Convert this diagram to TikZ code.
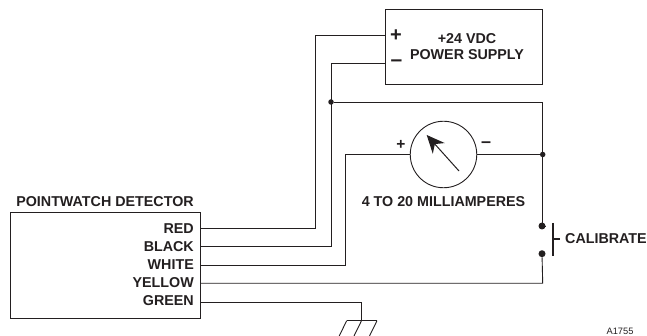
\documentclass[tikz,border=0pt]{standalone}
\usepackage{fontspec}
\setmainfont{Liberation Sans}
\usetikzlibrary{arrows.meta}
\definecolor{ink}{HTML}{231F20}
\tikzset{
  wire/.style={draw=ink,line width=0.9pt},
  box/.style={draw=ink,line width=0.9pt,inner sep=0pt},
  lbl/.style={text=ink,font=\fontsize{14.3}{16}\selectfont\bfseries,inner sep=0pt},
  joint/.style={circle,fill=ink,inner sep=0pt,minimum size=#1}
}
\begin{document}
\begin{tikzpicture}[x=1pt,y=-1pt]
  \useasboundingbox (0,0) rectangle (647,336);
  % boxes
  \node[box,minimum width=189.5pt,minimum height=105.5pt] (detector) at (105.25,265.25) {};
  \node[box,minimum width=157.5pt,minimum height=75pt] (supply) at (464,46.5) {};
  \node[box,circle,minimum size=66.5pt] (meter) at (443.5,154.5) {};
  % connection points
  \coordinate (supplyplus) at (385,35.7);
  \coordinate (supplyminus) at (385,63.5);
  \foreach \wname/\y in {red/228.7,black/246,white/265,yellow/283.3,green/302}{%
    \coordinate (\wname) at (200,\y);
  }
  \node[joint=5.5pt] (topjoint) at (331,102) {};
  \node[joint=5.5pt] (rightjoint) at (542.7,154.5) {};
  \node[joint=7pt] (switchtop) at (542,226) {};
  \node[joint=7pt] (switchbot) at (542,253.7) {};
  \coordinate (ground) at (361.5,320.7);
  % wires
  \draw[wire] (red) -- (315.3,228.7) -- (315.3,35.7) -- (supplyplus);
  \draw[wire] (black) -- (331,246) -- (331,63.5) -- (supplyminus);
  \draw[wire] (white) -- (345.7,265) -- (345.7,154.5) -- (meter.west);
  \draw[wire] (meter.east) -- (rightjoint);
  \draw[wire] (topjoint) -- (542.7,102) -- (rightjoint) -- (542.7,226) -- (switchtop);
  \draw[wire] (switchbot) -- (542.7,283.3) -- (yellow);
  \draw[wire] (green) -- (361.5,302) -- (ground);
  % ground
  \draw[wire] (346.7,320.7) -- (377,320.7);
  \foreach \gx in {346.7,361.5,377}{%
    \draw[wire] (\gx,320.7) -- (\gx-7.5,336);
  }
  % needle
  \draw[wire,line width=1pt,-{Stealth[length=18pt,width=16pt]}] (459,171) -- (426.7,135);
  % switch
  \draw[ink,line width=2pt] (553.3,223) -- (553.3,255.7);
  \draw[ink,line width=1.6pt] (553.3,239) -- (560,239);
  % labels
  \node[lbl] (title) at (105,202) {POINTWATCH DETECTOR};
  \foreach \wname/\y/\txt in {red/228.7/RED,black/246.5/BLACK,white/265/WHITE,yellow/283/YELLOW,green/300.7/GREEN}{%
    \node[lbl,anchor=east] (lbl\wname) at (194,\y) {\txt};
  }
  \node[lbl] (vdc) at (467,39) {+24 VDC};
  \node[lbl] (psu) at (467,55) {POWER SUPPLY};
  \node[lbl,font=\fontsize{20}{20}\selectfont\bfseries] (plus) at (396,36) {+};
  \node[lbl,font=\fontsize{21}{21}\selectfont\bfseries] (minus) at (396.5,63) {–};
  \node[lbl,font=\fontsize{15.5}{16}\selectfont\bfseries] (mplus) at (401,145) {+};
  \node[lbl,font=\fontsize{18}{18}\selectfont\bfseries] (mminus) at (486,144.5) {–};
  \node[lbl] (range) at (443.5,202) {4 TO 20 MILLIAMPERES};
  \node[lbl,anchor=west] (calibrate) at (565,239) {CALIBRATE};
  \node[text=ink,font=\fontsize{9.3}{11}\selectfont,inner sep=0pt] (drawingno) at (620,331.5) {A1755};
\end{tikzpicture}
\end{document}
